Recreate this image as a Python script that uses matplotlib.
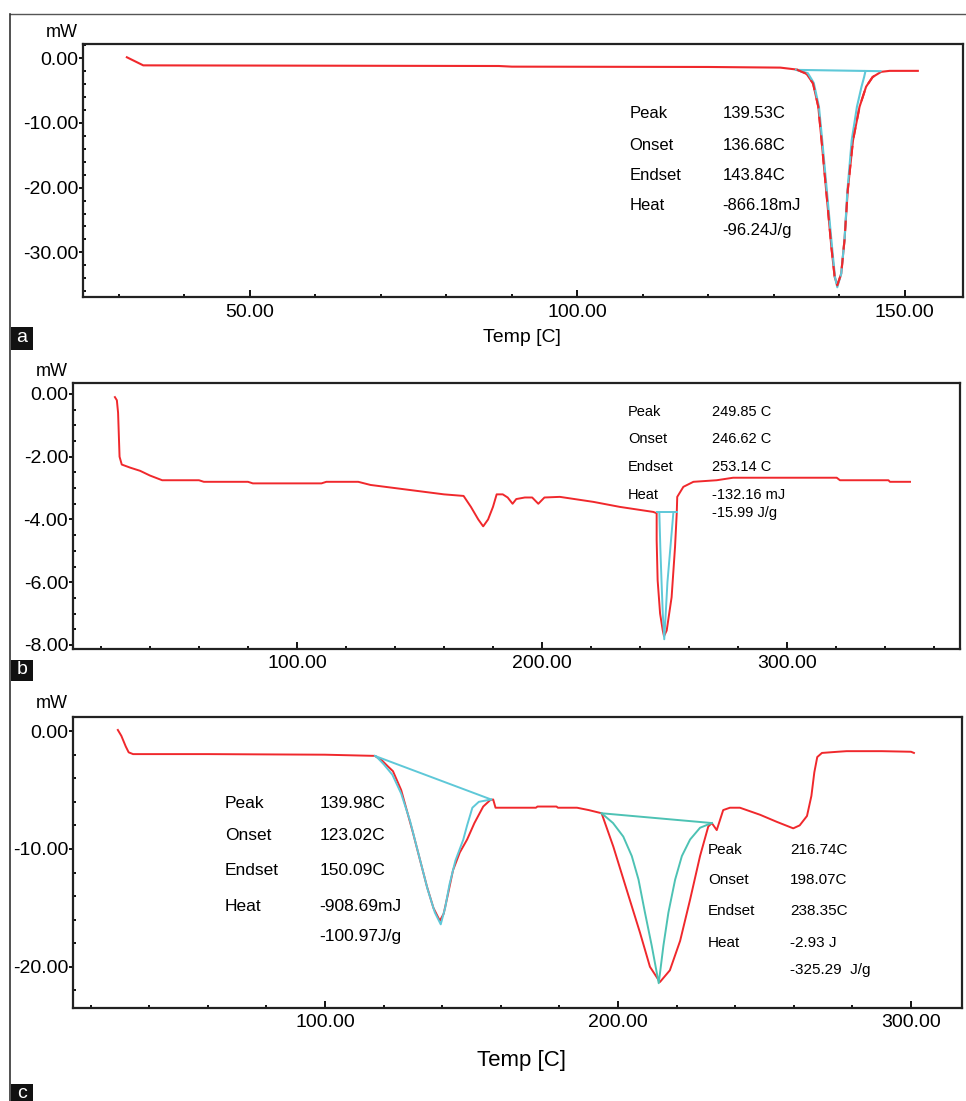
import matplotlib
matplotlib.use("Agg")
import matplotlib.pyplot as plt
import matplotlib.ticker as mticker
from matplotlib.lines import Line2D
from matplotlib.patches import Rectangle

plt.rcParams['font.family'] = ['Liberation Sans', 'DejaVu Sans']

RED = '#f0282c'
CYAN = '#5ec8d8'
TEAL = '#4dc2b4'

# ---- (a) DSC trace ----
temp_a = [31.2, 32.7, 33.7, 60.0, 88.0, 90.0, 120.0, 131.0, 133.5, 135.0, 136.0,
          136.8, 137.3, 138.0, 138.8, 139.3, 139.7, 140.3, 140.8, 141.3, 142.1,
          143.1, 144.1, 145.1, 146.4, 147.7, 152.0]
heat_a = [0.15, -0.6, -1.1, -1.15, -1.2, -1.3, -1.35, -1.45, -1.75, -2.4, -3.9,
          -7.5, -12.7, -20.4, -29.2, -33.8, -35.1, -33.3, -28.1, -20.4, -12.7,
          -7.5, -4.4, -2.9, -2.1, -1.95, -1.95]
fit_temp_a = [133.4, 135.2, 136.1, 136.9, 137.4, 138.1, 138.9, 139.35, 139.7,
              140.3, 140.8, 141.25, 141.9, 142.7, 143.4, 143.8, 144.0]
fit_heat_a = [-1.8, -2.3, -3.8, -7.5, -12.7, -20.4, -29.2, -33.8, -35.4,
              -33.3, -28.1, -20.4, -12.7, -7.5, -4.4, -2.9, -2.0]
base_temp_a = [133.4, 146.3]
base_heat_a = [-1.8, -2.0]
labels_a = ['Peak', 'Onset', 'Endset', 'Heat']
values_a = ['139.53C', '136.68C', '143.84C', '-866.18mJ', '-96.24J/g']

# ---- (b) DSC trace ----
temp_b = [25.7, 26.5, 27.0, 27.3, 27.6, 28.5, 32.0, 36.0, 40.0, 45.0, 60.0, 62.0,
          80.0, 82.0, 110.0, 112.0, 125.0, 130.0, 140.0, 150.0, 160.0, 168.0,
          171.0, 174.0, 176.0, 178.0, 180.0, 181.5, 184.0, 186.0, 188.0, 189.5,
          193.0, 196.0, 198.5, 201.0, 207.3, 221.0, 231.8, 245.4, 246.8, 246.8,
          247.2, 248.2, 249.3, 249.8, 250.9, 252.9, 254.3, 255.0, 255.2, 257.7,
          261.8, 271.3, 278.0, 320.3, 321.6, 341.4, 342.0, 350.2]
heat_b = [-0.1, -0.2, -0.6, -1.3, -2.0, -2.25, -2.35, -2.45, -2.6, -2.75, -2.75,
          -2.8, -2.8, -2.85, -2.85, -2.8, -2.8, -2.9, -3.0, -3.1, -3.2, -3.25,
          -3.6, -4.0, -4.22, -4.0, -3.6, -3.2, -3.2, -3.3, -3.5, -3.35, -3.3,
          -3.3, -3.5, -3.3, -3.28, -3.44, -3.6, -3.76, -3.8, -4.66, -5.94, -7.0,
          -7.54, -7.72, -7.54, -6.48, -4.88, -3.8, -3.28, -2.96, -2.8, -2.75,
          -2.67, -2.67, -2.75, -2.75, -2.8, -2.8]
fit_temp_b = [247.9, 248.3, 248.8, 249.3, 249.9, 250.5, 251.2, 252.4, 253.6]
fit_heat_b = [-3.8, -4.9, -6.0, -7.0, -7.82, -7.0, -6.0, -4.9, -3.8]
base_temp_b = [246.8, 255.0]
base_heat_b = [-3.76, -3.76]
labels_b = ['Peak', 'Onset', 'Endset', 'Heat']
values_b = ['249.85 C', '246.62 C', '253.14 C', '-132.16 mJ', '-15.99 J/g']

# ---- (c) DSC trace ----
temp_c = [29.3, 30.5, 32.0, 33.0, 34.5, 60.0, 100.0, 117.0, 119.5, 121.5, 123.2,
          126.0, 128.0, 130.0, 132.5, 134.8, 137.0, 139.2, 140.5, 142.0, 143.7,
          146.0, 148.5, 151.0, 154.0, 156.4, 157.4, 158.2, 172.0, 172.5, 179.0,
          179.5, 186.0, 190.0, 194.4, 198.4, 203.0, 207.5, 210.9, 214.3, 217.7,
          221.2, 224.6, 228.0, 230.8, 232.0, 233.7, 235.9, 238.2, 241.6, 248.5,
          254.2, 259.8, 262.0, 264.5, 266.0, 267.0, 268.0, 269.6, 275.0, 278.0,
          290.0, 300.0, 301.0]
heat_c = [0.1, -0.4, -1.3, -1.8, -1.95, -1.95, -2.0, -2.1, -2.5, -3.0, -3.4,
          -5.0, -6.8, -8.6, -11.0, -13.2, -15.0, -16.1, -15.5, -13.8, -11.8,
          -10.3, -9.2, -7.8, -6.4, -5.85, -5.8, -6.5, -6.5, -6.4, -6.4, -6.5,
          -6.5, -6.7, -6.97, -9.8, -13.5, -17.1, -20.0, -21.3, -20.3, -17.8,
          -14.3, -10.6, -8.1, -7.8, -8.4, -6.7, -6.5, -6.5, -7.1, -7.7, -8.25,
          -8.0, -7.2, -5.5, -3.5, -2.2, -1.85, -1.75, -1.7, -1.7, -1.75, -1.85]
fit1_temp_c = [117.5, 120.0, 123.0, 126.0, 129.0, 132.0, 135.0, 137.5, 139.5,
               141.0, 142.5, 144.5, 147.2, 148.5, 150.3, 152.5, 156.7]
fit1_heat_c = [-2.15, -2.8, -3.7, -5.3, -7.6, -10.5, -13.4, -15.4, -16.4,
               -15.0, -13.0, -11.0, -9.2, -8.0, -6.5, -6.0, -5.8]
base1_temp_c = [117.0, 156.7]
base1_heat_c = [-2.1, -5.8]
fit2_temp_c = [194.4, 198.3, 201.8, 204.7, 207.0, 209.2, 211.5, 213.9, 215.5,
               217.2, 219.5, 221.8, 224.6, 228.0, 232.0]
fit2_heat_c = [-6.97, -7.8, -8.95, -10.6, -12.6, -15.4, -18.2, -21.4, -18.2,
               -15.4, -12.6, -10.6, -9.2, -8.2, -7.8]
base2_temp_c = [194.4, 232.0]
base2_heat_c = [-6.97, -7.8]
labels_c1 = ['Peak', 'Onset', 'Endset', 'Heat']
values_c1 = ['139.98C', '123.02C', '150.09C', '-908.69mJ', '-100.97J/g']
labels_c2 = ['Peak', 'Onset', 'Endset', 'Heat']
values_c2 = ['216.74C', '198.07C', '238.35C', '-2.93 J', '-325.29  J/g']

W, H = 966, 1101
fig = plt.figure(figsize=(W / 100, H / 100), dpi=100)


def px_axes(left, top, right, bottom):
    return fig.add_axes([left / W, 1 - bottom / H, (right - left) / W, (bottom - top) / H])


def style(ax, xlim, ylim, xmaj, xmin, ymaj, ymin, xpad):
    ax.set_xlim(*xlim)
    ax.set_ylim(*ylim)
    ax.xaxis.set_major_locator(mticker.MultipleLocator(xmaj))
    ax.xaxis.set_minor_locator(mticker.MultipleLocator(xmin))
    ax.yaxis.set_major_locator(mticker.MultipleLocator(ymaj))
    ax.yaxis.set_minor_locator(mticker.MultipleLocator(ymin))
    ax.xaxis.set_major_formatter(mticker.FormatStrFormatter('%.2f'))
    ax.yaxis.set_major_formatter(mticker.FormatStrFormatter('%.2f'))
    for s in ax.spines.values():
        s.set_linewidth(1.6)
        s.set_color('#222222')
    ax.tick_params(axis='x', which='major', direction='in', length=5, width=1.3,
                   labelsize=14, pad=xpad)
    ax.tick_params(axis='x', which='minor', direction='in', length=2.5, width=1.3)
    ax.tick_params(axis='y', which='major', direction='out', length=3, width=1.3,
                   labelsize=14, pad=0.5)
    ax.tick_params(axis='y', which='minor', direction='in', length=2.5, width=1.3)
    ax.text(-0.042, 1.045, 'mW', transform=ax.transAxes, fontsize=13,
            ha='left', va='center')


def notes(ax, x_lab, x_val, ys, labels, values, size):
    # peak analysis readout: names in one column, results in the next
    for y, t in zip(ys, labels):
        ax.text(x_lab, y, t, fontsize=size, va='center', ha='left')
    for y, t in zip(ys, values):
        ax.text(x_val, y, t, fontsize=size, va='center', ha='left')


# panel a
ax_a = px_axes(83, 44, 963, 297)
style(ax_a, (24.5, 158.9), (-36.9, 2.2), 50, 10, 10, 2, 5)
ax_a.plot(temp_a, heat_a, color=RED, lw=1.5, zorder=2)
ax_a.plot(fit_temp_a, fit_heat_a, color=CYAN, lw=1.5, zorder=3)
ax_a.plot(base_temp_a, base_heat_a, color=CYAN, lw=1.5, zorder=3)
ax_a.plot(temp_a[8:25], heat_a[8:25], color=RED, lw=1.5, ls=(0, (5, 4)), zorder=4)
notes(ax_a, 108.0, 122.2, [-8.5, -13.45, -18.1, -22.7, -26.6],
      labels_a, values_a, 12)
ax_a.text(0.499, -0.162, 'Temp [C]', transform=ax_a.transAxes, fontsize=14,
          ha='center', va='center')

# panel b
ax_b = px_axes(73, 383, 960, 649)
style(ax_b, (8.6, 370.6), (-8.13, 0.35), 100, 20, 2, 0.5, 4)
ax_b.plot(temp_b, heat_b, color=RED, lw=1.4, zorder=2)
ax_b.plot(fit_temp_b, fit_heat_b, color=CYAN, lw=1.4, zorder=3)
ax_b.plot(base_temp_b, base_heat_b, color=CYAN, lw=1.4, zorder=3)
notes(ax_b, 235.1, 269.4, [-0.58, -1.44, -2.33, -3.23, -3.8],
      labels_b, values_b, 10.5)

# panel c
ax_c = px_axes(73, 717, 962, 1008)
style(ax_c, (14.0, 317.4), (-23.5, 1.2), 100, 20, 10, 2, 4)
ax_c.plot(temp_c, heat_c, color=RED, lw=1.4, zorder=2)
ax_c.plot(fit1_temp_c, fit1_heat_c, color=CYAN, lw=1.4, zorder=3)
ax_c.plot(base1_temp_c, base1_heat_c, color=CYAN, lw=1.4, zorder=3)
ax_c.plot(fit2_temp_c, fit2_heat_c, color=TEAL, lw=1.4, zorder=3)
ax_c.plot(base2_temp_c, base2_heat_c, color=TEAL, lw=1.4, zorder=3)
notes(ax_c, 65.9, 98.0, [-6.1, -8.9, -11.86, -14.9, -17.46],
      labels_c1, values_c1, 12.5)
notes(ax_c, 230.7, 258.7, [-10.08, -12.6, -15.3, -17.97, -20.25],
      labels_c2, values_c2, 11)
ax_c.text(0.504, -0.179, 'Temp [C]', transform=ax_c.transAxes, fontsize=16,
          ha='center', va='center')

# outer frame and panel tags
fig.add_artist(Line2D([10 / W, 1], [1 - 14 / H, 1 - 14 / H], color='#555555',
                      lw=1.0, transform=fig.transFigure))
fig.add_artist(Line2D([10 / W, 10 / W], [0, 1 - 14 / H], color='#333333',
                      lw=1.2, transform=fig.transFigure))
for tag, top, bot in [('a', 327, 350), ('b', 660, 681), ('c', 1084, 1106)]:
    fig.add_artist(Rectangle((11 / W, 1 - bot / H), 22 / W, (bot - top) / H,
                             facecolor='#111111', edgecolor='none',
                             transform=fig.transFigure))
    fig.text(22 / W, 1 - (top + 10) / H, tag, color='white', fontsize=14,
             ha='center', va='center')

fig.savefig('out.png', dpi=100, facecolor='white')
